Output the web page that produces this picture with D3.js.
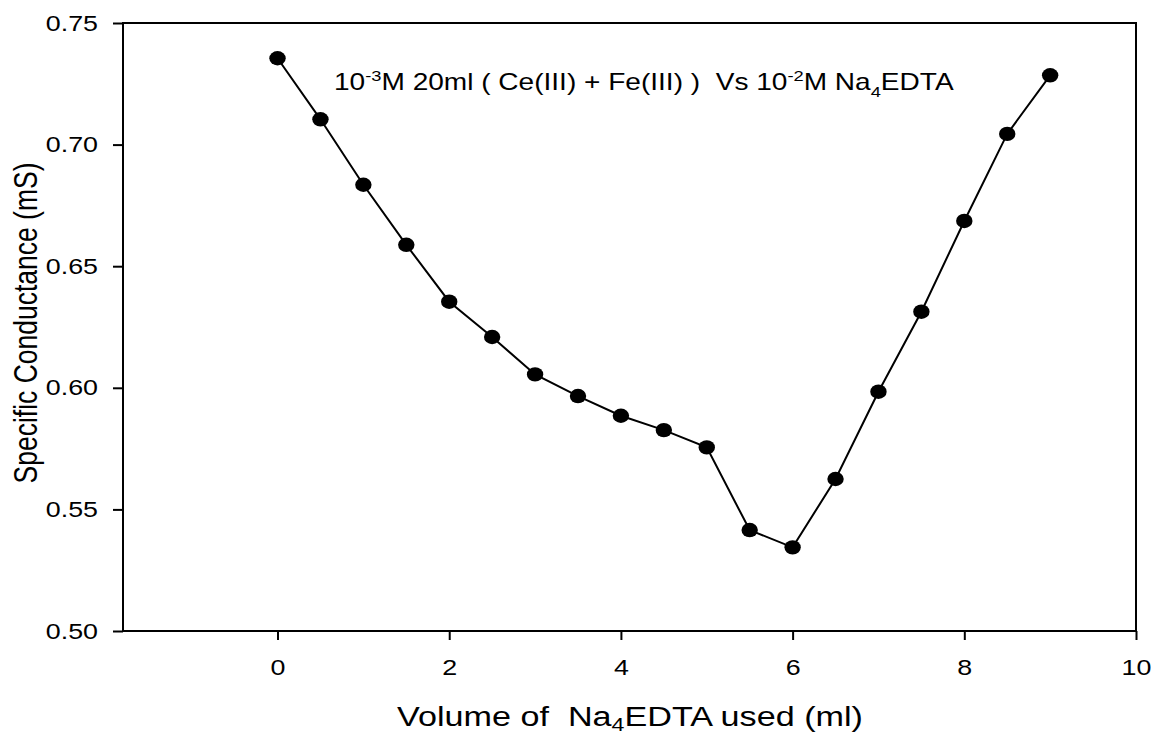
<!DOCTYPE html>
<html>
<head>
<meta charset="utf-8">
<script src="https://cdn.jsdelivr.net/npm/d3@7"></script>
<style>
  body { margin: 0; background: #fff; }
  text { font-family: "Liberation Sans", Arial, sans-serif; fill: #000; white-space: pre; }
</style>
</head>
<body>
<div id="chart"></div>
<script>
var svgWidth = 1154;
var svgHeight = 734;

// plot frame in pixels
var margin = { top: 23, right: 18, bottom: 103, left: 123 };
var width = svgWidth - margin.left - margin.right;
var height = svgHeight - margin.top - margin.bottom;

// text in the reference is a bit wider than normal Arial
var stretch = 1.22;

// data
var volume = [0, 0.5, 1, 1.5, 2, 2.5, 3, 3.5, 4, 4.5, 5, 5.5, 6, 6.5, 7, 7.5, 8, 8.5, 9];
var conductance = [0.7355, 0.7104, 0.6835, 0.6588, 0.6354, 0.6209, 0.6055, 0.5966, 0.5885, 0.5826,
  0.5755, 0.5415, 0.5344, 0.5625, 0.5984, 0.6313, 0.6686, 0.7044, 0.7285];
var xTicks = [0, 2, 4, 6, 8, 10];
var yTicks = [0.50, 0.55, 0.60, 0.65, 0.70, 0.75];

var Data = volume.map(function(v, i) { return { x: v, y: conductance[i] }; });

var svg = d3.select("#chart")
  .append("svg")
  .attr("width", svgWidth)
  .attr("height", svgHeight);

var chartGroup = svg.append("g")
  .attr("transform", `translate(${margin.left}, ${margin.top})`);

var xLinearScale = d3.scaleLinear().domain([-1.8, 10]).range([0, width]);
var yLinearScale = d3.scaleLinear().domain([0.50, 0.75]).range([height, 0]);

// x axis
var bottomAxis = d3.axisBottom(xLinearScale)
  .tickValues(xTicks)
  .tickFormat(d3.format("d"))
  .tickSize(9)
  .tickSizeOuter(0)
  .tickPadding(19);

var xAxis = chartGroup.append("g")
  .attr("transform", `translate(0, ${height})`)
  .call(bottomAxis);

xAxis.select(".domain").remove();
xAxis.selectAll("line").attr("stroke", "#000").attr("stroke-width", 2);
xAxis.selectAll("text")
  .style("font-size", "22px")
  .attr("transform", `scale(${stretch},1)`)
  .attr("x", 0);

// y axis
var leftAxis = d3.axisLeft(yLinearScale)
  .tickValues(yTicks)
  .tickFormat(d3.format(".2f"))
  .tickSize(10)
  .tickSizeOuter(0);

var yAxis = chartGroup.append("g").call(leftAxis);

yAxis.select(".domain").remove();
yAxis.selectAll("line").attr("stroke", "#000").attr("stroke-width", 2);
yAxis.selectAll("text")
  .style("font-size", "22px")
  .attr("x", 0)
  .attr("transform", `translate(-25,0) scale(${stretch},1)`);

// frame
chartGroup.append("rect")
  .attr("width", width)
  .attr("height", height)
  .attr("fill", "none")
  .attr("stroke", "#000")
  .attr("stroke-width", 2);

// line + markers
var line = d3.line()
  .x(d => xLinearScale(d.x))
  .y(d => yLinearScale(d.y));

chartGroup.append("path")
  .datum(Data)
  .attr("d", line)
  .attr("fill", "none")
  .attr("stroke", "#000")
  .attr("stroke-width", 2);

chartGroup.selectAll(".dot")
  .data(Data)
  .enter()
  .append("ellipse")
  .attr("class", "dot")
  .attr("cx", d => xLinearScale(d.x))
  .attr("cy", d => yLinearScale(d.y))
  .attr("rx", 8.2)
  .attr("ry", 7.2)
  .attr("fill", "#000");

// title inside the plot
var title = svg.append("text")
  .attr("transform", `translate(334, 90) scale(${stretch},1)`)
  .style("font-size", "23px");
title.append("tspan").text("10");
title.append("tspan").attr("dy", -9).style("font-size", "15px").text("-3");
title.append("tspan").attr("dy", 9).text("M 20ml ( Ce(III) + Fe(III) )  Vs 10");
title.append("tspan").attr("dy", -9).style("font-size", "15px").text("-2");
title.append("tspan").attr("dy", 9).text("M Na");
title.append("tspan").attr("dy", 7).style("font-size", "15px").text("4");
title.append("tspan").attr("dy", -7).text("EDTA");

// x axis title
var xTitle = svg.append("text")
  .attr("transform", `translate(630, 726) scale(${stretch},1)`)
  .attr("text-anchor", "middle")
  .style("font-size", "28px");
xTitle.append("tspan").text("Volume of  Na");
xTitle.append("tspan").attr("dy", 5).style("font-size", "19px").text("4");
xTitle.append("tspan").attr("dy", -5).text("EDTA used (ml)");

// y axis title
svg.append("text")
  .attr("transform", `translate(37, 323) scale(${stretch},1) rotate(-90)`)
  .attr("text-anchor", "middle")
  .style("font-size", "26.5px")
  .text("Specific Conductance (mS)");
</script>
</body>
</html>
